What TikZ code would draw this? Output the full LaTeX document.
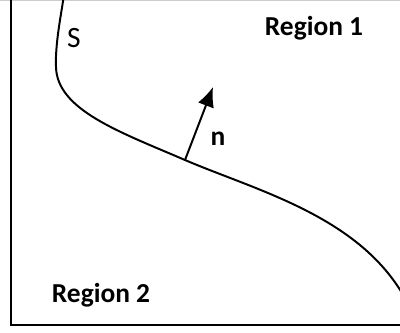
\documentclass[tikz,border=0pt]{standalone}
\usepackage{fontspec}
\setmainfont{Carlito}
\usetikzlibrary{arrows.meta}

\begin{document}
\begin{tikzpicture}[
  x=0.025cm, y=-0.025cm,
  label/.style={font=\fontsize{19.5}{22}\selectfont\bfseries, inner sep=0pt},
  frame/.style={line width=1.4pt},
  arrow/.style={-{Latex[length=14pt,width=12pt]}, line width=1.4pt},
]
  \useasboundingbox (0,0) rectangle (400,332);

  % Frame (open on the right, light on top)
  \draw[gray!40, line width=1pt] (0,0.5) -- (400,0.5);
  \draw[frame] (11,0) -- (11,325) -- (400,325);

  % Normal vector foot and tip
  \coordinate (base) at (185,160);
  \coordinate (tip)  at (213,87);

  % Interface S
  \begin{scope}
    \clip (0,0) rectangle (400,332);
    \draw[line width=1.4pt] (64,-5) .. controls (61,15) and (55,45) .. (56,67)
      .. controls (57,110) and (120,132) .. (base)
      .. controls (255,190) and (355,215) .. (402,293);
  \end{scope}

  % Normal vector
  \draw[arrow] (base) -- (tip);

  % Labels
  \node[inner sep=0pt, font=\fontsize{21}{24}\selectfont] (s) at (74,38) {S};
  \node[label] (n) at (218,139) {n};
  \node[label] (r1) at (314,28) {Region 1};
  \node[label] (r2) at (101,295) {Region 2};
\end{tikzpicture}
\end{document}
